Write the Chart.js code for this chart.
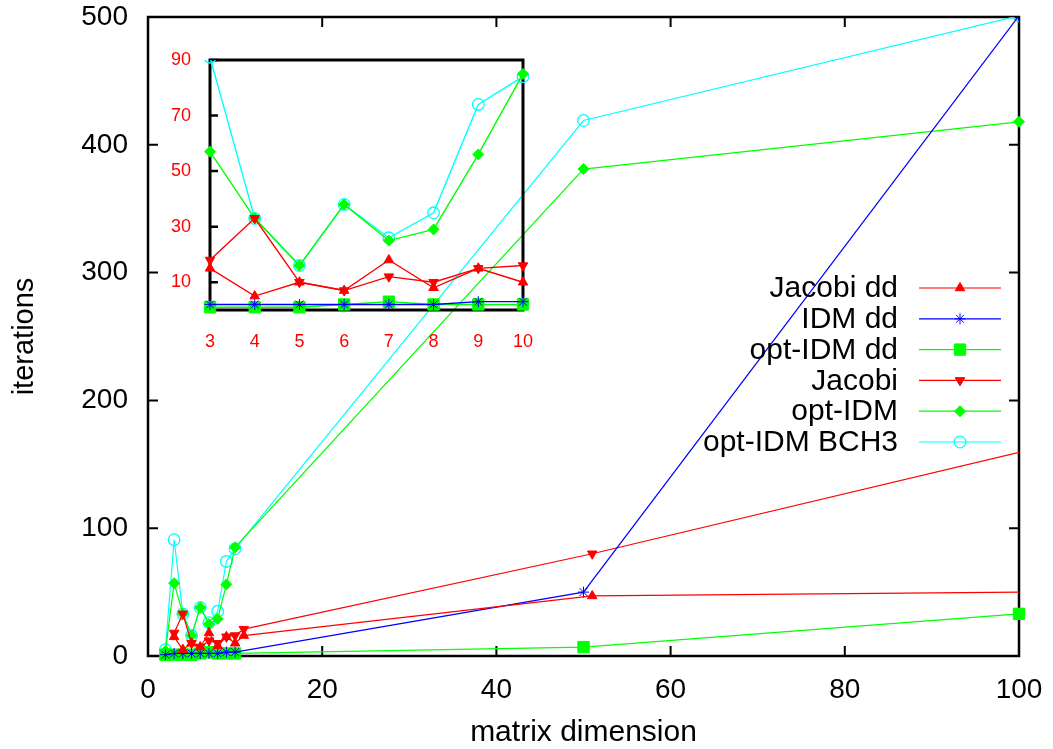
<!DOCTYPE html>
<html>
<head>
<meta charset="utf-8">
<script src="https://cdn.jsdelivr.net/npm/chart.js@4.4.1/dist/chart.umd.min.js"></script>
<style>
html,body{margin:0;padding:0;background:#fff;}
#wrap{position:relative;width:1053px;height:749px;overflow:hidden;}
#main{position:absolute;left:0;top:0;}
#inset{position:absolute;left:140px;top:40px;}
</style>
</head>
<body>
<div id="wrap">
<canvas id="main" width="1053" height="749"></canvas>
<canvas id="inset" width="400" height="330"></canvas>
</div>
<script>
// matrix dimensions (the Jacobi runs sit one step to the right)
const dims = [2,3,4,5,6,7,8,9,10,50,100];
const jacobiDims = [3,4,5,6,7,8,9,10,11,51,101];

// iterations
const jacobiDD   = [15,5,10,7,18,8,15,10,16,47,50];
const idmDD      = [1,2,2,2,2,2,2,3,3,50,501];
const optIdmDD   = [1,1,1,1,2,3,2,2,2,7,33];
const jacobi     = [18,33,10,7,12,10,15,16,21,80,161];
const optIdm     = [4,57,33,16,38,25,29,56,85,381,418];
const optIdmBCH3 = [5,91,33,16,38,26,35,74,84,419,501];

// ticks
const xTicks = [0,20,40,60,80,100];
const yTicks = [0,100,200,300,400,500];
const insetXTicks = [3,4,5,6,7,8,9,10];
const insetYTicks = [10,30,50,70,90];

const FONT = "'Liberation Sans', Arial, sans-serif";
const RED = "#ff0000", BLUE = "#0000ff", GREEN = "#00ff00", CYAN = "#00ffff";

// edge: clip the right side tight (points sitting past the frame)
const series = [
    {label:"Jacobi dd",    x:jacobiDims, y:jacobiDD,   color:RED,   style:"triangle", rot:0,   r:5.5, edge:true},
    {label:"IDM dd",       x:dims,       y:idmDD,      color:BLUE,  style:"star",     rot:0,   r:5.5, edge:true},
    {label:"opt-IDM dd",   x:dims,       y:optIdmDD,   color:GREEN, style:"rect",     rot:0,   r:8},
    {label:"Jacobi",       x:jacobiDims, y:jacobi,     color:RED,   style:"triangle", rot:180, r:5.5, edge:true},
    {label:"opt-IDM",      x:dims,       y:optIdm,     color:GREEN, style:"rectRot",  rot:0,   r:5.5},
    {label:"opt-IDM BCH3", x:dims,       y:optIdmBCH3, color:CYAN,  style:"circle",   rot:0,   r:5.8, open:true, edge:true}
];

function makeDatasets(inset){
    return series.map(s=>{
        let data = s.x.map((x,i)=>({x:x, y:s.y[i]}));
        if(inset) data = data.filter(p=>p.x>=3 && p.x<=10);
        const fill = s.open ? "rgba(0,0,0,0)" : s.color;
        return {
            label:s.label,
            data:data,
            borderColor:s.color,
            backgroundColor:fill,
            borderWidth: inset ? 1.4 : 1.2,
            pointStyle:s.style,
            pointRotation:s.rot,
            pointRadius:s.r,
            pointHoverRadius:s.r,
            pointBorderWidth: s.open ? 1.3 : 1,
            pointBorderColor:s.color,
            pointBackgroundColor:fill,
            tension:0,
            clip:{left:10, top:0, right:(!inset && s.edge) ? 0 : 10, bottom:10}
        };
    });
}

// fixed box sizes, no label overflow padding
function fixX(h){ return s=>{ s.height=h; s.paddingLeft=0; s.paddingRight=0; }; }
function fixY(w){ return s=>{ s.width=w; s.paddingTop=0; s.paddingBottom=0; }; }

// FRAME + INNER TICKS
const framePlugin = {
    id:"frame",
    beforeDatasetsDraw(chart, args, opts){
        const {ctx, chartArea:a, scales} = chart;
        ctx.save();
        ctx.strokeStyle = "#000";
        ctx.lineWidth = opts.width;
        ctx.strokeRect(a.left, a.top, a.right-a.left, a.bottom-a.top);
        ctx.lineWidth = opts.tickWidth;
        ctx.beginPath();
        scales.y.ticks.forEach(t=>{
            const py = scales.y.getPixelForValue(t.value);
            ctx.moveTo(a.left, py); ctx.lineTo(a.left+opts.tick, py);
            if(opts.mirror){ ctx.moveTo(a.right, py); ctx.lineTo(a.right-opts.tick, py); }
        });
        if(opts.xTicks){
            scales.x.ticks.forEach(t=>{
                const px = scales.x.getPixelForValue(t.value);
                ctx.moveTo(px, a.bottom); ctx.lineTo(px, a.bottom-opts.tick);
                if(opts.mirror){ ctx.moveTo(px, a.top); ctx.lineTo(px, a.top+opts.tick); }
            });
        }
        ctx.stroke();
        ctx.restore();
    }
};

// KEY (text right, sample on the right like gnuplot)
const keyPlugin = {
    id:"key",
    afterDraw(chart, args, opts){
        if(!opts.show) return;
        const ctx = chart.ctx;
        ctx.save();
        ctx.font = opts.size+"px "+FONT;
        ctx.textAlign = "right";
        ctx.textBaseline = "middle";
        chart.data.datasets.forEach((ds,i)=>{
            const y = opts.top + i*opts.rowH;
            ctx.fillStyle = "#000";
            ctx.fillText(ds.label, opts.textRight, y+1);
            ctx.strokeStyle = ds.borderColor;
            ctx.lineWidth = ds.borderWidth;
            ctx.beginPath(); ctx.moveTo(opts.x0, y); ctx.lineTo(opts.x1, y); ctx.stroke();
            ctx.fillStyle = ds.pointBackgroundColor;
            ctx.strokeStyle = ds.pointBorderColor;
            ctx.lineWidth = ds.pointBorderWidth;
            Chart.helpers.drawPoint(ctx, {
                pointStyle:ds.pointStyle, rotation:ds.pointRotation,
                radius:ds.pointRadius, borderWidth:ds.pointBorderWidth
            }, (opts.x0+opts.x1)/2, y);
        });
        ctx.restore();
    }
};

// MAIN CHART
new Chart(document.getElementById("main"),{
    type:"line",
    data:{datasets:makeDatasets(false)},
    plugins:[framePlugin, keyPlugin],
    options:{
        responsive:false, animation:false, devicePixelRatio:1,
        layout:{padding:{top:17, right:34, left:0, bottom:0}},
        plugins:{
            legend:{display:false}, tooltip:{enabled:false},
            frame:{width:2.5, tickWidth:2, tick:10, mirror:true, xTicks:true},
            key:{show:true, size:30, top:288, rowH:30.8, textRight:898, x0:919, x1:1001}
        },
        scales:{
            x:{
                type:"linear", min:0, max:100,
                afterBuildTicks:s=>{ s.ticks = xTicks.map(v=>({value:v})); },
                afterFit:fixX(93),
                grid:{display:false, drawTicks:false}, border:{display:false},
                ticks:{font:{family:FONT, size:28}, color:"#000", padding:17, maxRotation:0, autoSkip:false},
                title:{display:true, text:"matrix dimension", font:{family:FONT, size:30}, color:"#000", padding:{top:0, bottom:-2}}
            },
            y:{
                type:"linear", min:0, max:500,
                afterBuildTicks:s=>{ s.ticks = yTicks.map(v=>({value:v})); },
                afterFit:fixY(148),
                grid:{display:false, drawTicks:false}, border:{display:false},
                ticks:{font:{family:FONT, size:28}, color:"#000", padding:20, autoSkip:false},
                title:{display:true, text:"iterations", font:{family:FONT, size:29}, color:"#000", padding:{top:8, bottom:0}}
            }
        }
    }
});

// INSET
new Chart(document.getElementById("inset"),{
    type:"line",
    data:{datasets:makeDatasets(true)},
    plugins:[framePlugin],
    options:{
        responsive:false, animation:false, devicePixelRatio:1,
        layout:{padding:{top:20, right:17, left:0, bottom:0}},
        plugins:{
            legend:{display:false}, tooltip:{enabled:false},
            frame:{width:3, tickWidth:2.5, tick:8, mirror:false, xTicks:false}
        },
        scales:{
            x:{
                type:"linear", min:3, max:10,
                afterBuildTicks:s=>{ s.ticks = insetXTicks.map(v=>({value:v})); },
                afterFit:fixX(60),
                grid:{display:false, drawTicks:false}, border:{display:false},
                ticks:{font:{family:FONT, size:18}, color:RED, padding:21, maxRotation:0, autoSkip:false}
            },
            y:{
                type:"linear", min:0, max:90,
                afterBuildTicks:s=>{ s.ticks = insetYTicks.map(v=>({value:v})); },
                afterFit:fixY(70),
                grid:{display:false, drawTicks:false}, border:{display:false},
                ticks:{font:{family:FONT, size:18}, color:RED, padding:19, autoSkip:false}
            }
        }
    }
});
</script>
</body>
</html>
